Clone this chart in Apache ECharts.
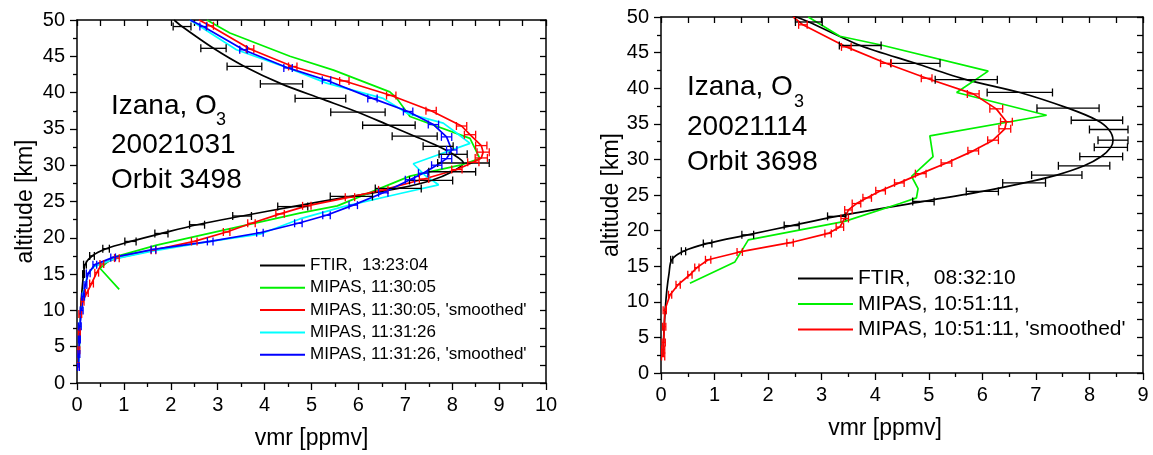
<!DOCTYPE html>
<html><head><meta charset="utf-8">
<script src="https://cdn.jsdelivr.net/npm/echarts@6/dist/echarts.min.js"></script>
<style>html,body{margin:0;padding:0;background:#fff}#c{width:1153px;height:455px}</style>
</head><body><div id="c"></div>
<script>
// ---------- DATA (vmr [ppmv], altitude [km], error half-width [ppmv]) ----------
// Left panel: Izana 20021031, orbit 3498
const leftFtir = [[0.04,2.4,0],[0.05,5,0],[0.06,8,0],[0.08,10.5,0],[0.11,13,0],[0.14,15,0.02],[0.17,16.3,0.03],[0.32,17.5,0.05],[0.62,18.5,0.07],[1.14,19.5,0.12],[1.80,20.6,0.14],[2.56,21.8,0.16],[3.52,23.0,0.2],[4.60,24.3,0.32],[5.85,25.7,0.45],[6.85,26.8,0.49],[7.55,27.9,0.46],[8.0,29.1,0.5],[8.24,30.3,0.55],[8.02,31.5,0.3],[7.7,32.6,0.32],[7.2,34.0,0.48],[6.65,35.5,0.56],[5.99,37.3,0.58],[5.19,39.2,0.54],[4.36,41.2,0.45],[3.57,43.6,0.37],[2.91,46.1,0.27],[2.24,49.1,0.19],[2.07,50.0,0]];
const leftMipas1 = [[0.90,12.9],[0.49,15.8],[0.77,17.3],[1.70,19.0],[3.15,21.1],[4.75,23.4],[5.55,24.4],[7.10,28.5],[8.17,30.0],[8.59,30.9],[8.38,33.7],[7.10,36.7],[6.82,39.2],[6.67,40.1],[5.47,43.1],[4.54,45.0],[3.26,48.2],[2.77,50]];
const leftMipas1s = [[0.03,2.3,0.02],[0.04,4.5,0.02],[0.05,7,0.02],[0.07,9.5,0.03],[0.12,11.2,0.03],[0.21,12.4,0.03],[0.31,13.7,0.04],[0.42,15.2,0.04],[0.53,16.4,0.04],[0.85,17.2,0.05],[1.63,18.3,0.05],[2.50,19.5,0.06],[3.19,20.8,0.07],[3.72,22.0,0.08],[4.33,23.3,0.09],[4.90,24.4,0.09],[5.82,25.6,0.1],[6.53,26.6,0.1],[7.40,28.1,0.1],[8.10,29.4,0.11],[8.45,30.4,0.12],[8.62,31.0,0.13],[8.66,31.8,0.13],[8.62,32.7,0.12],[8.38,34.2,0.12],[8.20,35.4,0.11],[7.55,37.5,0.11],[6.70,39.6,0.1],[5.70,41.6,0.1],[4.60,43.6,0.09],[3.69,46.0,0.08],[2.84,49.2,0.07],[2.60,50,0]];
const leftMipas2 = [[0.04,2.3],[0.06,8],[0.12,12],[0.22,14.8],[0.35,16.0],[0.80,17.1],[1.63,18.2],[2.84,19.5],[3.90,20.5],[4.75,22.6],[5.68,24.3],[6.89,26.1],[7.71,27.3],[7.42,28.6],[7.17,30.2],[7.60,31.2],[8.38,33.0],[8.10,34.4],[7.81,35.8],[7.06,37.1],[6.53,39.2],[5.32,41.3],[4.54,43.3],[3.40,45.9],[2.41,50]];
const leftMipas2s = [[0.03,2.2,0.02],[0.04,4,0.02],[0.05,6,0.02],[0.06,7.8,0.03],[0.10,10,0.03],[0.13,11.9,0.03],[0.18,13.5,0.03],[0.24,15.1,0.04],[0.38,16.3,0.04],[0.77,17.3,0.05],[1.63,18.4,0.05],[2.84,19.5,0.06],[3.90,20.7,0.07],[4.72,22.0,0.08],[5.32,23.1,0.08],[5.89,24.5,0.09],[6.53,26.2,0.1],[7.10,28.0,0.1],[7.38,28.9,0.1],[7.67,30.0,0.11],[7.88,30.9,0.11],[7.99,32.1,0.11],[7.88,33.9,0.11],[7.60,35.6,0.11],[7.06,37.4,0.1],[6.30,39.2,0.1],[5.32,41.7,0.09],[4.50,43.4,0.09],[3.55,45.9,0.08],[2.69,49.1,0.07],[2.41,50,0]];
// Right panel: Izana 20021114, orbit 3698
const rightFtir = [[0.04,2.3,0],[0.05,5,0],[0.08,9,0],[0.11,11.7,0],[0.15,14,0],[0.20,15.9,0.02],[0.42,17.1,0.04],[0.87,18.2,0.08],[1.62,19.4,0.11],[2.44,20.7,0.14],[3.28,22.0,0.17],[4.90,24.1,0.2],[6.00,25.5,0.3],[6.78,26.7,0.4],[7.39,27.8,0.47],[7.90,29.1,0.48],[8.22,30.4,0.4],[8.40,31.7,0.31],[8.44,32.7,0.28],[8.36,34.2,0.36],[8.14,35.5,0.48],[7.60,37.2,0.58],[6.70,39.4,0.61],[5.70,41.2,0.58],[4.75,43.5,0.46],[3.72,46.0,0.39],[2.76,49.3,0.25],[2.45,50.2,0]];
const rightMipas = [[0.54,12.6],[1.38,15.6],[1.63,18.7],[3.43,21.3],[4.46,23.8],[4.77,24.6],[4.80,25.9],[4.68,27.6],[5.08,30.4],[5.02,33.3],[7.20,36.2],[5.52,39.4],[6.11,42.4],[4.09,46.1],[3.34,47.3],[2.75,50]];
const rightMipasS = [[0.04,2.3,0.03],[0.04,3.3,0.03],[0.05,4.3,0.03],[0.06,6.5,0.03],[0.07,8.8,0.03],[0.17,11.0,0.03],[0.32,12.4,0.04],[0.54,13.8,0.04],[0.67,14.8,0.04],[0.88,15.9,0.05],[1.47,17.0,0.05],[2.41,18.3,0.06],[3.12,19.6,0.06],[3.34,20.5,0.07],[3.43,21.7,0.07],[3.50,22.9,0.07],[3.65,23.8,0.08],[3.85,24.6,0.08],[4.10,25.6,0.09],[4.45,26.7,0.09],[4.85,28.0,0.1],[5.33,29.5,0.1],[5.83,31.2,0.1],[6.20,32.7,0.1],[6.42,34.3,0.11],[6.45,35.3,0.11],[6.26,37.1,0.12],[5.83,39.2,0.11],[4.96,41.4,0.1],[4.20,43.5,0.1],[3.46,45.8,0.09],[2.65,48.9,0.08],[2.47,50,0]];
const xTicksLeft = [0,10,1];   // min, max, interval
const xTicksRight = [0,9,1];
const yTicks = [0,50,5];

const leftNames = ['FTIR,  13:23:04','MIPAS, 11:30:05',"MIPAS, 11:30:05, 'smoothed'",'MIPAS, 11:31:26',"MIPAS, 11:31:26, 'smoothed'"];
const rightNames = ['FTIR,    08:32:10','MIPAS, 10:51:11,',"MIPAS, 10:51:11, 'smoothed'"];

// ---------- CHART ----------
const FONT = 'Liberation Sans, Arial, sans-serif';
const chart = echarts.init(document.getElementById('c'), null, {renderer:'canvas'});

function bottomX(grid, t, pad){
  return {gridIndex:grid, type:'value', min:t[0], max:t[1], interval:t[2], position:'bottom',
    name:'vmr [ppmv]', nameLocation:'middle', nameGap:44,
    nameTextStyle:{fontFamily:FONT, fontSize:23, color:'#000', padding:pad},
    axisLine:{show:true, onZero:false, lineStyle:{color:'#000', width:1.5}},
    axisTick:{show:true, inside:false, length:7, lineStyle:{color:'#000', width:1.3}},
    minorTick:{show:true, splitNumber:2, length:4, lineStyle:{color:'#000', width:1.3}},
    axisLabel:{fontFamily:FONT, fontSize:20, color:'#000', margin:12},
    splitLine:{show:false}};
}
function topX(grid, t){
  return {gridIndex:grid, type:'value', min:t[0], max:t[1], interval:t[2], position:'top',
    axisLine:{show:true, onZero:false, lineStyle:{color:'#000', width:1.5}},
    axisTick:{show:true, inside:true, length:6, lineStyle:{color:'#000', width:1.3}},
    minorTick:{show:true, splitNumber:2, length:6, lineStyle:{color:'#000', width:1.3}},
    axisLabel:{show:false}, splitLine:{show:false}};
}
function leftY(grid, gap){
  return {gridIndex:grid, type:'value', min:yTicks[0], max:yTicks[1], interval:yTicks[2], position:'left',
    name:'altitude [km]', nameLocation:'middle', nameGap:gap, nameRotate:90,
    nameTextStyle:{fontFamily:FONT, fontSize:23, color:'#000'},
    axisLine:{show:true, onZero:false, lineStyle:{color:'#000', width:1.5}},
    axisTick:{show:true, inside:false, length:7, lineStyle:{color:'#000', width:1.3}},
    minorTick:{show:true, splitNumber:2, length:4, lineStyle:{color:'#000', width:1.3}},
    axisLabel:{fontFamily:FONT, fontSize:20, color:'#000', margin:12},
    splitLine:{show:false}};
}
function rightY(grid){
  return {gridIndex:grid, type:'value', min:yTicks[0], max:yTicks[1], interval:yTicks[2], position:'right',
    axisLine:{show:true, onZero:false, lineStyle:{color:'#000', width:1.5}},
    axisTick:{show:true, inside:true, length:6, lineStyle:{color:'#000', width:1.3}},
    minorTick:{show:true, splitNumber:2, length:6, lineStyle:{color:'#000', width:1.3}},
    axisLabel:{show:false}, splitLine:{show:false}};
}

function lineSeries(name, data, color, xi, yi, smooth){
  return {type:'line', name:name, xAxisIndex:xi, yAxisIndex:yi,
    data:data.map(d=>[d[0],d[1]]), symbol:'none', smooth:smooth||false,
    lineStyle:{color:color, width:1.7}, itemStyle:{color:color}, clip:true, z:3};
}
function errSeries(name, data, color, xi, yi){
  return {type:'custom', name:name, xAxisIndex:xi, yAxisIndex:yi, clip:true, z:4,
    data:data.filter(d=>d[2]>0), encode:{x:0, y:1},
    renderItem:function(params, api){
      const x = api.value(0), y = api.value(1), e = api.value(2);
      const l = api.coord([x-e, y]), r = api.coord([x+e, y]);
      const h = 4, st = {stroke:color, lineWidth:1.3};
      return {type:'group', children:[
        {type:'line', shape:{x1:l[0], y1:l[1], x2:r[0], y2:r[1]}, style:st},
        {type:'line', shape:{x1:l[0], y1:l[1]-h, x2:l[0], y2:l[1]+h}, style:st},
        {type:'line', shape:{x1:r[0], y1:r[1]-h, x2:r[0], y2:r[1]+h}, style:st}
      ]};
    }};
}

const BLACK='#000000', GREEN='#00f000', RED='#ff0000', CYAN='#00ffff', BLUE='#0000ff';

const series = [
  lineSeries(leftNames[0], leftFtir, BLACK, 0, 0, 0.3),
  errSeries('e0', leftFtir, BLACK, 0, 0),
  lineSeries(leftNames[1], leftMipas1, GREEN, 0, 0),
  lineSeries(leftNames[2], leftMipas1s, RED, 0, 0),
  errSeries('e1', leftMipas1s, RED, 0, 0),
  lineSeries(leftNames[3], leftMipas2, CYAN, 0, 0),
  lineSeries(leftNames[4], leftMipas2s, BLUE, 0, 0),
  errSeries('e2', leftMipas2s, BLUE, 0, 0),
  lineSeries(rightNames[0], rightFtir, BLACK, 2, 2, 0.3),
  errSeries('e3', rightFtir, BLACK, 2, 2),
  lineSeries(rightNames[1], rightMipas, GREEN, 2, 2),
  lineSeries(rightNames[2], rightMipasS, RED, 2, 2),
  errSeries('e4', rightMipasS, RED, 2, 2)
];

function annot(x, y, lines, subX, subY){
  const els = lines.map((t,i)=>({type:'text', x:x, y:y[i], silent:true,
    style:{text:t, fill:'#000', font:'28px '+FONT, verticalAlign:'middle', align:'left'}}));
  els.push({type:'text', x:subX, y:subY, silent:true,
    style:{text:'3', fill:'#000', font:'18px '+FONT, verticalAlign:'middle', align:'left'}});
  return els;
}

const option = {
  animation:false,
  backgroundColor:'#fff',
  grid:[
    {left:77, top:20, width:469, height:363, show:false},
    {left:661, top:17, width:482, height:356, show:false}
  ],
  xAxis:[bottomX(0, xTicksLeft, [0,0,0,0]), topX(0, xTicksLeft), bottomX(1, xTicksRight, [0,34,0,0]), topX(1, xTicksRight)],
  yAxis:[leftY(0, 40), rightY(0), leftY(1, 32), rightY(1)],
  legend:[
    {data:leftNames, orient:'vertical', left:255, top:252, padding:5, icon:'rect', itemWidth:45, itemHeight:2, itemGap:5.3,
     textStyle:{fontFamily:FONT, fontSize:17, color:'#000', lineHeight:16}, selectedMode:false},
    {data:rightNames, orient:'vertical', left:793, top:263, padding:5, icon:'rect', itemWidth:55, itemHeight:2, itemGap:4.5,
     textStyle:{fontFamily:FONT, fontSize:21, color:'#000', lineHeight:18}, selectedMode:false}
  ],
  series:series,
  graphic:[
    ...annot(111, [106,145,180], ['Izana, O','20021031','Orbit 3498'], 216, 120),
    ...annot(687, [87,127,162], ['Izana, O','20021114','Orbit 3698'], 794, 102)
  ]
};
chart.setOption(option);
</script>
</body></html>
